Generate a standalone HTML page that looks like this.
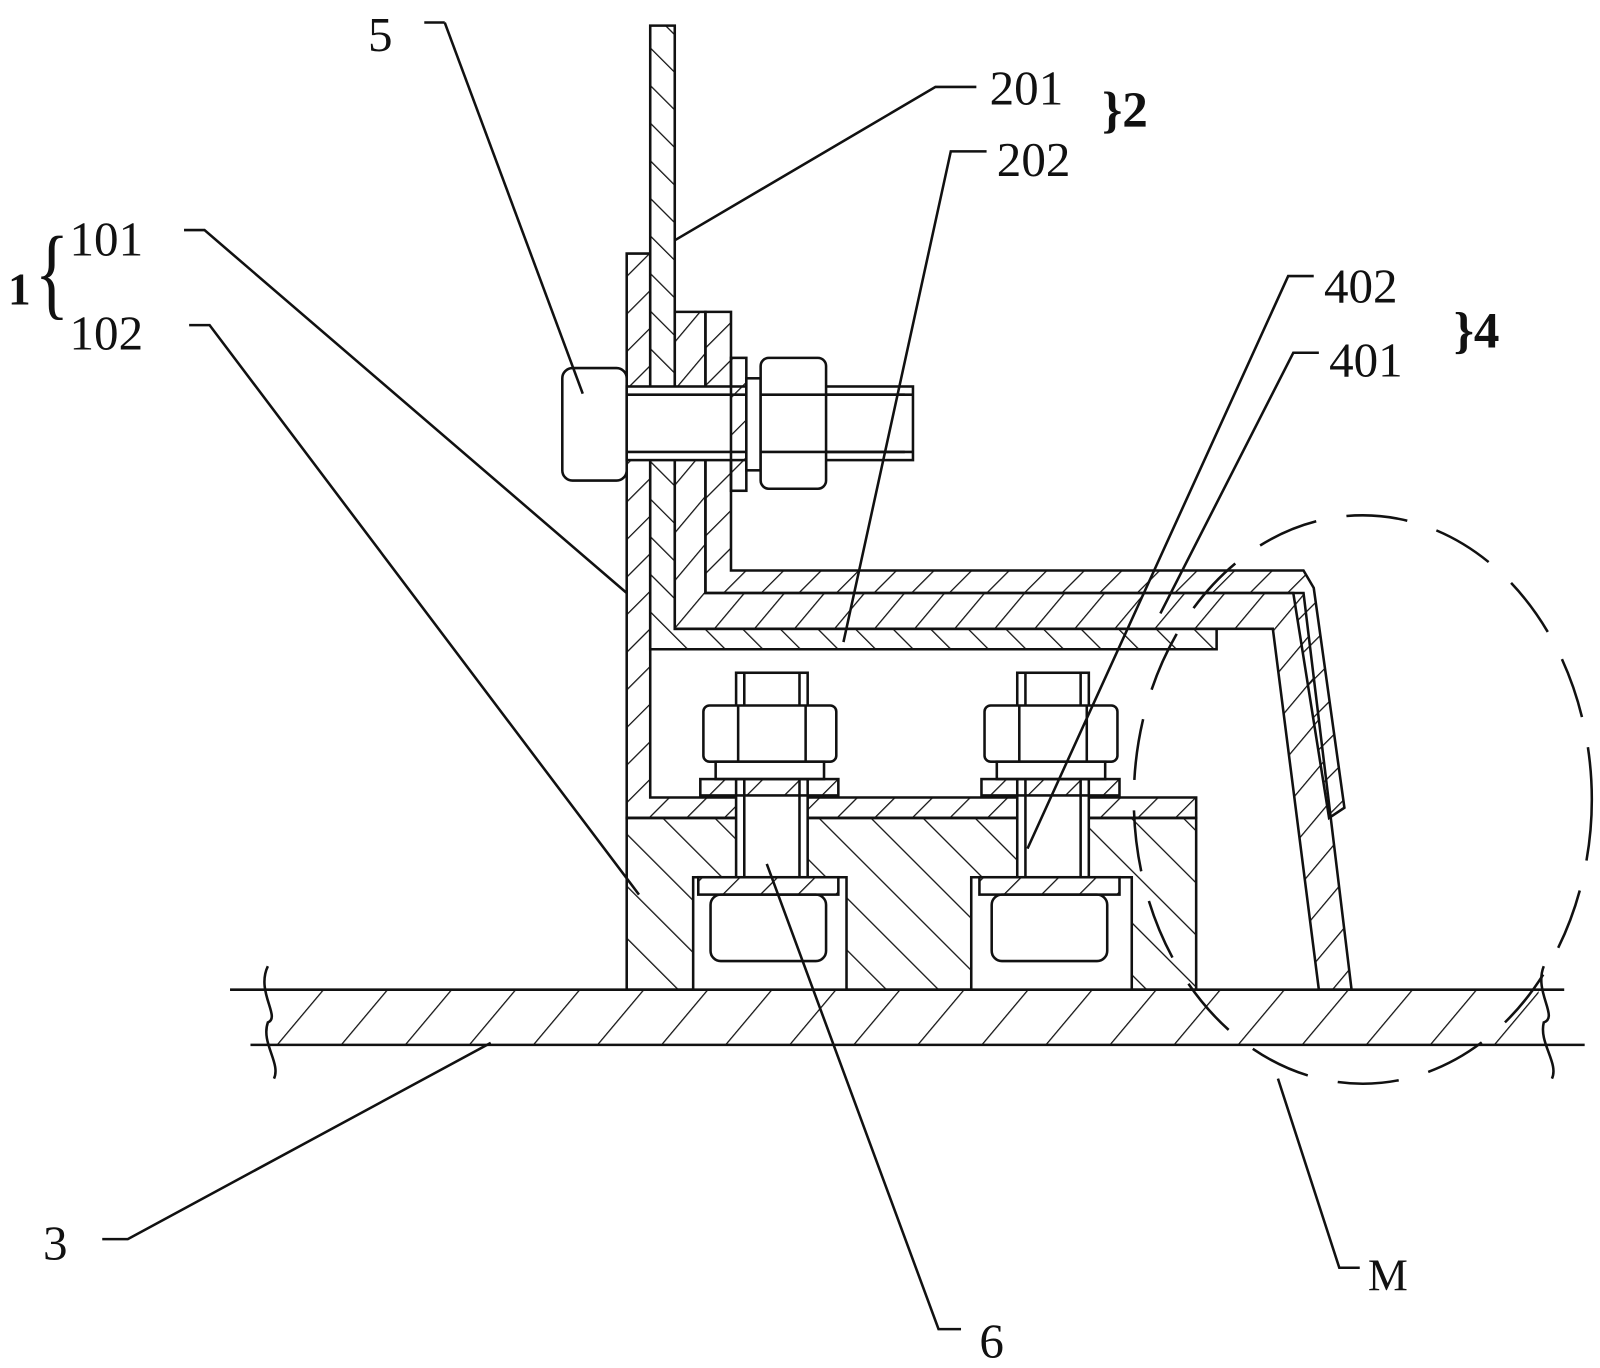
<!DOCTYPE html>
<html><head><meta charset="utf-8"><style>
html,body{margin:0;padding:0;background:#fff;}
svg{display:block;}
text{font-family:"Liberation Serif",serif;fill:#111;}
</style></head><body>
<svg width="1600" height="1368" viewBox="0 0 1565 1338" xmlns="http://www.w3.org/2000/svg">
<defs>
<pattern id="hA" width="26" height="26" patternUnits="userSpaceOnUse" patternTransform="rotate(45)"><line x1="0" y1="0" x2="0" y2="26" stroke="#111" stroke-width="2.5"/></pattern>
<pattern id="hB" width="26" height="26" patternUnits="userSpaceOnUse" patternTransform="rotate(-45)"><line x1="0" y1="0" x2="0" y2="26" stroke="#111" stroke-width="2.5"/></pattern>
<pattern id="hC" width="30" height="30" patternUnits="userSpaceOnUse" patternTransform="rotate(40)"><line x1="0" y1="0" x2="0" y2="30" stroke="#111" stroke-width="2.5"/></pattern>
<pattern id="hD" width="48" height="48" patternUnits="userSpaceOnUse" patternTransform="rotate(40)"><line x1="0" y1="0" x2="0" y2="48" stroke="#111" stroke-width="2.5"/></pattern>
<pattern id="hE" width="36" height="36" patternUnits="userSpaceOnUse" patternTransform="rotate(-45)"><line x1="0" y1="0" x2="0" y2="36" stroke="#111" stroke-width="2.5"/></pattern>
</defs>
<g stroke="#111" stroke-width="2.5" fill="none" stroke-linejoin="miter">
<rect x="255" y="968" width="1250" height="54" fill="url(#hD)" stroke="none"/>
<line x1="225" y1="968" x2="1530" y2="968"/>
<line x1="245" y1="1022" x2="1550" y2="1022"/>
<path d="M262 945 C250 970,275 995,262 1000 C255 1020,275 1040,268 1055"/>
<path d="M1510 945 C1500 970,1525 995,1510 1000 C1505 1020,1525 1040,1518 1055"/>
<path d="M613 800 H1170 V968 H1107 V858 H950 V968 H828 V858 H678 V968 H613 Z" fill="url(#hE)"/>
<path d="M613 248 H636 V780 H1170 V800 H613 Z" fill="url(#hA)"/>
<path d="M636 25 H660 V615 H1190 V635 H636 Z" fill="url(#hB)"/>
<path d="M660 305 H690 V580 H1275 L1322 968 H1290 L1245 615 H660 Z" fill="url(#hC)"/>
<path d="M690 305 H715 V558 H1275 L1285 575 L1315 790 L1300 800 L1265 580 H690 Z" fill="url(#hA)"/>
<rect x="550" y="360" width="63" height="110" rx="10" fill="#fff"/>
<rect x="613" y="378" width="280" height="72" fill="#fff"/>
<line x1="613" y1="386" x2="885" y2="386"/>
<line x1="613" y1="442" x2="885" y2="442"/>
<rect x="715" y="350" width="15" height="130" fill="url(#hA)"/>
<rect x="730" y="370" width="14" height="90" fill="#fff"/>
<rect x="744" y="350" width="64" height="128" rx="8" fill="#fff"/>
<line x1="744" y1="386" x2="893" y2="386"/><line x1="744" y1="442" x2="893" y2="442"/>
<g id="bb">
<rect x="695" y="875" width="113" height="65" rx="10" fill="#fff"/>
<rect x="683" y="858" width="137" height="17" fill="url(#hA)"/>
<rect x="720" y="658" width="70" height="200" fill="#fff"/>
<line x1="728" y1="658" x2="728" y2="858"/><line x1="782" y1="658" x2="782" y2="858"/>
<rect x="688" y="690" width="130" height="55" rx="6" fill="#fff"/>
<line x1="722" y1="690" x2="722" y2="745"/><line x1="788" y1="690" x2="788" y2="745"/>
<rect x="700" y="745" width="106" height="17" fill="#fff"/>
<rect x="685" y="762" width="135" height="16" fill="url(#hA)"/>
</g>
<use href="#bb" transform="translate(275,0)"/>
<ellipse cx="1333" cy="782" rx="224" ry="278" stroke-dasharray="60 30"/>
<polyline points="435,22 415,22"/><line x1="435" y1="22" x2="570" y2="385"/>
<polyline points="955,85 915,85 660,235"/>
<polyline points="965,148 930,148 825,628"/>
<polyline points="180,225 200,225 613,580"/>
<polyline points="185,318 205,318 625,875"/>
<polyline points="1285,270 1260,270 1005,830"/>
<polyline points="1290,345 1265,345 1135,600"/>
<polyline points="100,1212 125,1212 480,1020"/>
<polyline points="940,1300 918,1300 750,845"/>
<polyline points="1330,1240 1310,1240 1250,1055"/>
</g>
<g font-size="48">
<text x="360" y="50">5</text>
<text x="968" y="102">201</text>
<text x="975" y="172">202</text>
<text x="68" y="250">101</text>
<text x="68" y="342">102</text>
<text x="1295" y="296">402</text>
<text x="1300" y="368">401</text>
<text x="42" y="1232">3</text>
<text x="958" y="1328">6</text>
<text x="1338" y="1262" font-size="44">M</text>
<text x="8" y="298" font-weight="bold" font-size="44">1</text>
<text x="34" y="300" font-size="100" transform="scale(0.7,1)" transform-origin="34 300">{</text>
<text x="1078" y="124" font-weight="bold" font-size="50">}2</text>
<text x="1422" y="340" font-weight="bold" font-size="50">}4</text>
</g>
</svg>
</body></html>
